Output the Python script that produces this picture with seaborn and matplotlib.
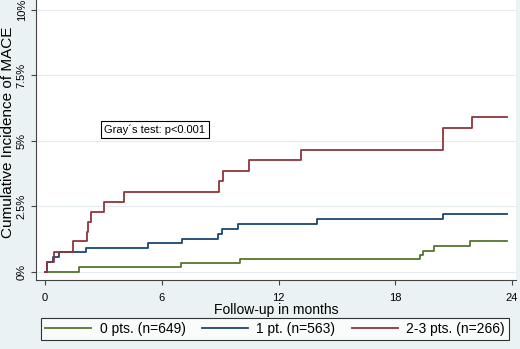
import pandas as pd
import matplotlib
matplotlib.use("Agg")
import matplotlib.pyplot as plt
import seaborn as sns

# step times (months) and cumulative incidence (%) per group
grupos = ["0 pts. (n=649)", "1 pt. (n=563)", "2-3 pts. (n=266)"]
cores = ["#55752F", "#1A476F", "#90353B"]

t_0pts = [0, 1.75, 6.97, 10.02, 19.25, 19.4, 20.0, 21.85, 23.75]
cif_0pts = [0, 0.18, 0.33, 0.50, 0.66, 0.81, 0.99, 1.17, 1.17]

t_1pt = [0, 0.12, 0.43, 0.74, 2.1, 5.31, 7.06, 8.9, 9.1, 9.9, 14.0, 20.45, 23.75]
cif_1pt = [0, 0.37, 0.56, 0.75, 0.90, 1.10, 1.26, 1.44, 1.63, 1.82, 2.01, 2.20, 2.20]

t_23pts = [0, 0.12, 0.48, 1.46, 2.17, 2.22, 2.34, 3.03, 4.06, 8.95, 9.17, 10.5,
           13.15, 20.45, 21.95, 23.75]
cif_23pts = [0, 0.37, 0.75, 1.16, 1.54, 1.92, 2.28, 2.67, 3.06, 3.47, 3.85, 4.26,
             4.66, 5.51, 5.92, 5.92]

yticks = [0, 2.5, 5, 7.5, 10]
ytick_labels = ["0%", "2.5%", "5%", "7.5%", "10%"]
xticks = [0, 6, 12, 18, 24]

# ===============================
# DataFrame longo
# ===============================
df = pd.concat([
    pd.DataFrame({"mes": t_0pts, "cif": cif_0pts, "grupo": grupos[0]}),
    pd.DataFrame({"mes": t_1pt, "cif": cif_1pt, "grupo": grupos[1]}),
    pd.DataFrame({"mes": t_23pts, "cif": cif_23pts, "grupo": grupos[2]}),
], ignore_index=True)

# ===============================
# Plot
# ===============================
plt.rcParams["font.family"] = ["Liberation Sans", "DejaVu Sans"]

fig = plt.figure(figsize=(5.2, 3.49), dpi=100, facecolor="#EAF2F3")
ax = fig.add_axes([36 / 520, 69 / 349, 480 / 520, 280 / 349])
ax.set_facecolor("white")

sns.lineplot(
    data=df, x="mes", y="cif", hue="grupo", hue_order=grupos,
    palette=cores, drawstyle="steps-post", estimator=None,
    linewidth=1.3, ax=ax, legend=False
)

ax.set_xlim(-0.46, 24.2)
ax.set_ylim(-0.31, 10.38)
ax.set_xticks(xticks)
ax.set_yticks(yticks)
ax.set_yticklabels(ytick_labels, rotation=90, va="center")
ax.tick_params(labelsize=8, length=3.6, color="#444444")
ax.tick_params(axis="x", pad=5.5)
ax.tick_params(axis="y", pad=3)
for y in yticks:
    ax.axhline(y, color="#E3EBEE", linewidth=0.8, zorder=0)

for s in ["top", "right"]:
    ax.spines[s].set_visible(False)
for s in ["left", "bottom"]:
    ax.spines[s].set_color("#444444")
    ax.spines[s].set_linewidth(0.8)

ax.set_xlabel("Follow-up in months", fontsize=10)
ax.xaxis.set_label_coords(0.5, -23 / 280)
ax.set_ylabel("Cumulative Incidence of MACE", fontsize=11)
ax.yaxis.set_label_coords(-21 / 480, 147.5 / 280)

ax.text(5.65, 5.42, "Gray´s test: p<0.001", ha="center", va="center", fontsize=8,
        bbox=dict(facecolor="white", edgecolor="black", linewidth=0.8,
                  boxstyle="square,pad=0.3"))

handles = [plt.Line2D([], [], color=c, linewidth=1.3) for c in cores]
leg = fig.legend(handles, grupos, loc="lower center", bbox_to_anchor=(275 / 520, 2 / 349),
                 ncol=3, fontsize=10, frameon=True, fancybox=False,
                 handlelength=3.3, columnspacing=1.2, borderpad=0.3, handletextpad=0.6)
leg.get_frame().set_edgecolor("black")
leg.get_frame().set_linewidth(0.8)

fig.savefig("out.png", dpi=100, facecolor=fig.get_facecolor())
